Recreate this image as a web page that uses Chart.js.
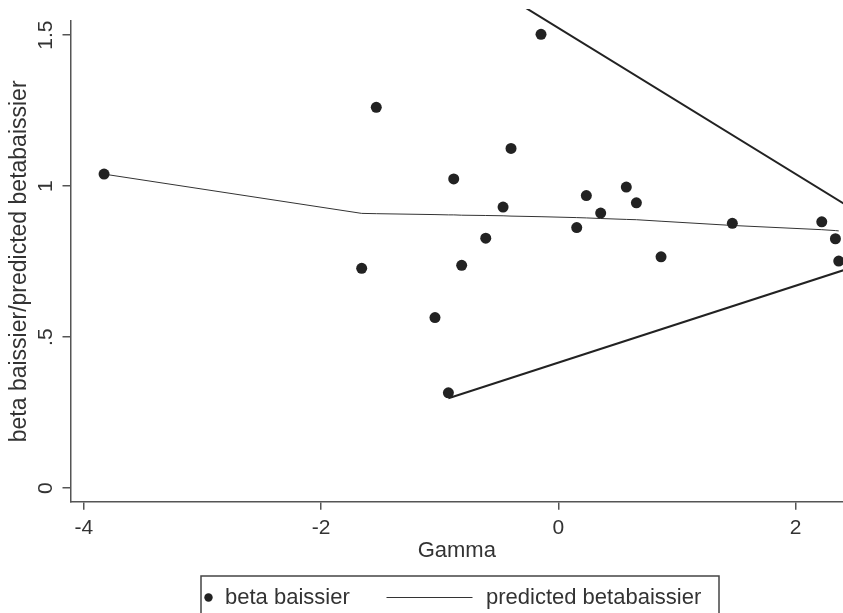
<!DOCTYPE html>
<html>
<head>
<meta charset="utf-8">
<script src="https://cdn.jsdelivr.net/npm/chart.js@4.4.1/dist/chart.umd.min.js"></script>
<style>
  html, body { margin: 0; padding: 0; background: #ffffff; }
  #c { display: block; }
</style>
</head>
<body>
<canvas id="c" width="843" height="613"></canvas>
<script>
// ---- data ----
const gamma = [-3.83, -1.535, -1.658, -0.146, -0.882, -0.399, -0.466, -0.612, -0.815,
               0.236, 0.357, 0.155, 0.573, 0.658, 0.866, 1.467, 2.221, 2.336, 2.364,
               -1.04, -0.927];
const betaRatio = [1.040, 1.261, 0.728, 1.503, 1.024, 1.125, 0.931, 0.828, 0.738,
                   0.969, 0.911, 0.863, 0.997, 0.945, 0.766, 0.877, 0.882, 0.826, 0.752,
                   0.565, 0.316];

const predGamma = [-3.83, -1.658, -1.535, -1.04, -0.927, -0.882, -0.815, -0.612, -0.466,
                   -0.399, -0.146, 0.155, 0.236, 0.357, 0.573, 0.658, 0.866, 1.467,
                   2.221, 2.336, 2.364];
const predBeta = [1.040, 0.910, 0.909, 0.906, 0.905, 0.905, 0.904, 0.903, 0.902,
                  0.901, 0.899, 0.896, 0.895, 0.893, 0.890, 0.889, 0.884, 0.870,
                  0.856, 0.853, 0.852];

const upperGamma = [-0.927, 2.5];
const upperBeta  = [1.748, 0.920];
const lowerGamma = [-0.927, 2.5];
const lowerBeta  = [0.298, 0.734];

const xTickValues = [-4, -2, 0, 2];
const xTickLabels = ['-4', '-2', '0', '2'];
const yTickValues = [0, 0.5, 1, 1.5];
const yTickLabels = ['0', '.5', '1', '1.5'];

const xTitle = 'Gamma';
const yTitle = 'beta baissier/predicted betabaissier';
const legendLabels = ['beta baissier', 'predicted betabaissier'];

// ---- chart ----
const FONT = '"Liberation Sans", Arial, Helvetica, sans-serif';
const INK = '#222222';
const AXIS = '#555555';

function pts(xs, ys) { return xs.map((x, i) => ({ x: x, y: ys[i] })); }

const legendPlugin = {
  id: 'stataLegend',
  afterDraw(chart) {
    const ctx = chart.ctx;
    ctx.save();
    ctx.strokeStyle = '#444444';
    ctx.lineWidth = 1.5;
    ctx.strokeRect(201, 576, 518, 60);
    ctx.fillStyle = INK;
    ctx.beginPath();
    ctx.arc(208.5, 597.5, 4.2, 0, Math.PI * 2);
    ctx.fill();
    ctx.font = '22px ' + FONT;
    ctx.fillStyle = '#333333';
    ctx.textBaseline = 'alphabetic';
    ctx.textAlign = 'left';
    ctx.fillText(legendLabels[0], 225, 603.5);
    ctx.strokeStyle = '#333333';
    ctx.lineWidth = 1;
    ctx.beginPath();
    ctx.moveTo(386.5, 597.5);
    ctx.lineTo(472.5, 597.5);
    ctx.stroke();
    ctx.fillText(legendLabels[1], 486, 603.5);
    ctx.restore();
  }
};

new Chart(document.getElementById('c'), {
  type: 'scatter',
  data: {
    datasets: [
      {
        label: legendLabels[0],
        data: pts(gamma, betaRatio),
        backgroundColor: INK,
        borderColor: INK,
        pointRadius: 5.5,
        pointHoverRadius: 5.5,
        borderWidth: 0,
        clip: 10,
        order: 0
      },
      {
        label: legendLabels[1],
        data: pts(predGamma, predBeta),
        showLine: true,
        borderColor: '#333333',
        borderWidth: 1,
        pointRadius: 0,
        fill: false,
        tension: 0,
        order: 1
      },
      {
        label: 'upper',
        data: pts(upperGamma, upperBeta),
        showLine: true,
        borderColor: INK,
        borderWidth: 2,
        pointRadius: 0,
        fill: false,
        clip: { left: 0, top: 12, right: 100, bottom: 0 },
        order: 2
      },
      {
        label: 'lower',
        data: pts(lowerGamma, lowerBeta),
        showLine: true,
        borderColor: INK,
        borderWidth: 2,
        pointRadius: 0,
        fill: false,
        clip: { left: 0, top: 12, right: 100, bottom: 0 },
        order: 2
      }
    ]
  },
  options: {
    responsive: false,
    animation: false,
    layout: { autoPadding: false, padding: { top: 21, right: 0, left: 0, bottom: 49.3 } },
    plugins: {
      legend: { display: false },
      tooltip: { enabled: false }
    },
    scales: {
      x: {
        type: 'linear',
        min: -4.113,
        max: 2.40,
        afterBuildTicks: (s) => { s.ticks = xTickValues.map(v => ({ value: v })); },
        afterFit: (s) => { s.height = 62; s.paddingLeft = 0; s.paddingRight = 0; },
        ticks: {
          color: '#333333',
          font: { family: FONT, size: 21 },
          padding: 6,
          maxRotation: 0,
          callback: (v) => { const i = xTickValues.indexOf(v); return i >= 0 ? xTickLabels[i] : ''; }
        },
        grid: { display: true, drawOnChartArea: false, drawTicks: true, tickLength: 8, color: AXIS, lineWidth: 1.5 },
        border: { display: true, color: AXIS, width: 1.5 },
        title: {
          display: true,
          text: xTitle,
          color: '#333333',
          font: { family: FONT, size: 22 },
          padding: { top: 0, bottom: 0 }
        }
      },
      y: {
        type: 'linear',
        min: -0.0447,
        max: 1.547,
        afterBuildTicks: (s) => { s.ticks = yTickValues.map(v => ({ value: v })); },
        afterFit: (s) => { s.width = 70.5; s.paddingTop = 0; s.paddingBottom = 0; },
        ticks: {
          color: '#333333',
          font: { family: FONT, size: 21 },
          padding: 1.5,
          minRotation: 90,
          maxRotation: 90,
          crossAlign: 'center',
          callback: (v) => { const i = yTickValues.indexOf(v); return i >= 0 ? yTickLabels[i] : ''; }
        },
        grid: { display: true, drawOnChartArea: false, drawTicks: true, tickLength: 8, color: AXIS, lineWidth: 1.5 },
        border: { display: true, color: AXIS, width: 1.5 },
        title: {
          display: true,
          text: yTitle,
          color: '#333333',
          font: { family: FONT, size: 23 },
          padding: { top: 6, bottom: 0 }
        }
      }
    }
  },
  plugins: [legendPlugin]
});
</script>
</body>
</html>
